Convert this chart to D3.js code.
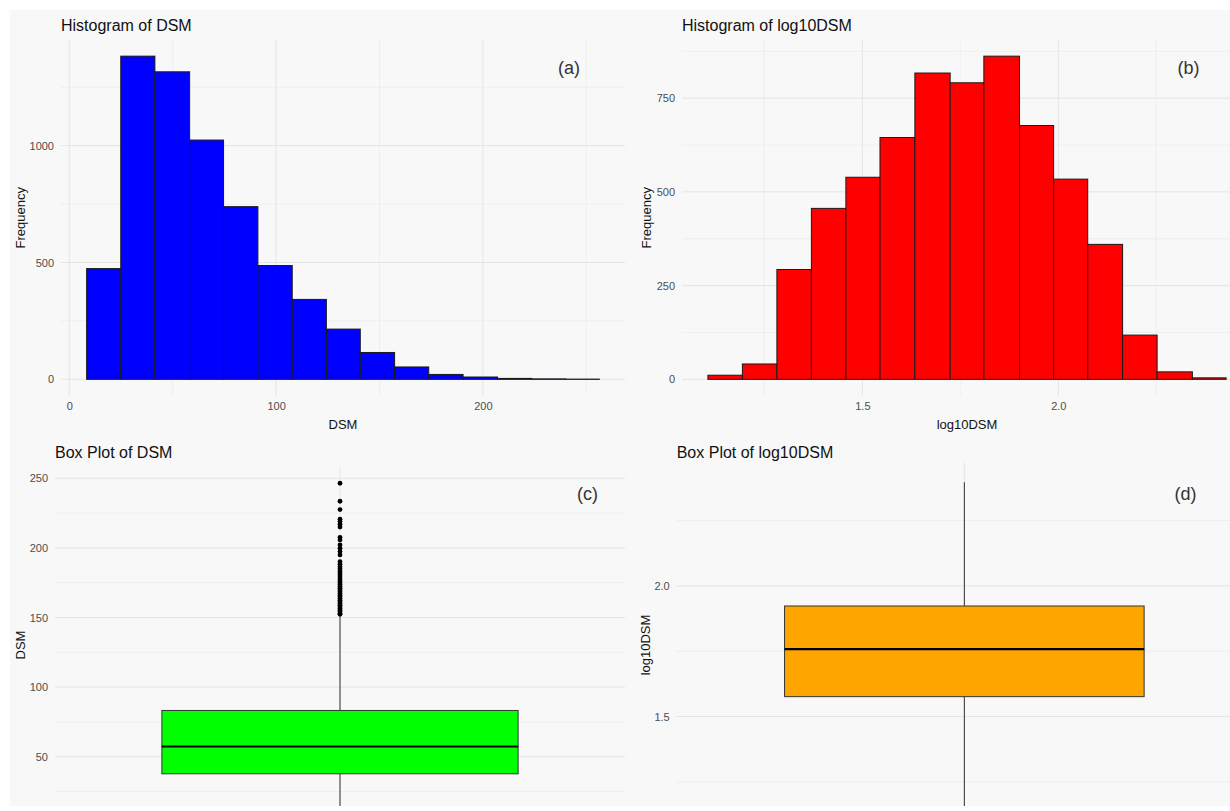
<!DOCTYPE html>
<html>
<head>
<meta charset="utf-8">
<script src="https://cdn.jsdelivr.net/npm/d3@7"></script>
<style>
  body { margin: 0; background: #ffffff; }
  svg text { font-family: "Liberation Sans", Arial, sans-serif; }
</style>
</head>
<body>
<svg id="chart" width="1230" height="811"></svg>
<script>
// ---------------- DATA ----------------
const dsmBinEdges = [8.4, 24.9, 41.4, 58.2, 74.6, 91.2, 107.8, 124.3, 140.7, 157.3, 173.8, 190.4, 207.1, 223.6, 240.0, 256.3];
const dsmCounts   = [474, 1383, 1316, 1024, 739, 487, 342, 215, 115, 53, 21, 10, 4, 2, 1];

const logBinEdges = [1.106, 1.194, 1.282, 1.370, 1.458, 1.545, 1.634, 1.724, 1.810, 1.901, 1.988, 2.075, 2.164, 2.252, 2.342, 2.428];
const logCounts   = [11, 41, 293, 456, 539, 645, 817, 791, 862, 677, 534, 360, 118, 20, 4];

// [lower whisker, Q1, median, Q3, upper whisker]
const dsmBoxStats = [8.3, 37.7, 57.3, 83.2, 151.9];
const dsmOutliers = [246.4, 233.5, 227.5, 220.6, 218.9, 217.0, 215.0, 207.6, 205.7, 202.1, 199.7, 197.3, 194.9,
                     190.1, 188.3, 186.5, 185.0, 183.4, 182.0, 180.5, 179.0, 177.6, 176.2, 175.0, 173.6, 172.3,
                     171.0, 169.8, 168.5, 167.2, 166.0, 164.8, 163.6, 162.4, 161.2, 160.0, 158.8, 157.6, 156.4,
                     155.2, 154.0, 152.8, 152.3];
const logBoxStats = [0.92, 1.576, 1.758, 1.923, 2.397];

// tick values
const dsmXMajor = [0, 100, 200],        dsmXMinor = [50, 150, 250];
const freqAMajor = [0, 500, 1000],      freqAMinor = [250, 750, 1250];
const logXMajor = [1.5, 2.0],           logXMinor = [1.25, 1.75, 2.25];
const freqBMajor = [0, 250, 500, 750],  freqBMinor = [125, 375, 625, 875];
const dsmYMajor = [50, 100, 150, 200, 250], dsmYMinor = [25, 75, 125, 175, 225];
const logYMajor = [1.5, 2.0],           logYMinor = [1.25, 1.75, 2.25];

// ---------------- DRAWING ----------------
const svg = d3.select("#chart");
svg.append("defs").append("clipPath").attr("id", "fig")
  .append("rect").attr("x", 10).attr("y", 10).attr("width", 1220).attr("height", 796);
svg.append("rect").attr("x", 10).attr("y", 10).attr("width", 1220).attr("height", 796).attr("fill", "#f8f8f8");
const root = svg.append("g").attr("clip-path", "url(#fig)");

const MAJ = "#e4e4e4", MIN = "#ececec";
const expand = (ext, f = 0.05) => { const r = ext[1] - ext[0]; return [ext[0] - r * f, ext[1] + r * f]; };

function grid(g, x, y, L, R, T, B, xMaj, xMin, yMaj, yMin) {
  const gg = g.append("g");
  if (yMin) gg.selectAll(null).data(yMin.filter(v => y(v) >= T && y(v) <= B)).join("line")
    .attr("x1", L).attr("x2", R).attr("y1", d => y(d)).attr("y2", d => y(d)).attr("stroke", MIN).attr("stroke-width", 0.8);
  if (xMin) gg.selectAll(null).data(xMin.filter(v => x(v) >= L && x(v) <= R)).join("line")
    .attr("y1", T).attr("y2", B).attr("x1", d => x(d)).attr("x2", d => x(d)).attr("stroke", MIN).attr("stroke-width", 0.8);
  if (yMaj) gg.selectAll(null).data(yMaj).join("line")
    .attr("x1", L).attr("x2", R).attr("y1", d => y(d)).attr("y2", d => y(d)).attr("stroke", MAJ).attr("stroke-width", 1);
  if (xMaj) gg.selectAll(null).data(xMaj).join("line")
    .attr("y1", T).attr("y2", B).attr("x1", d => x(d)).attr("x2", d => x(d)).attr("stroke", MAJ).attr("stroke-width", 1);
}

function styleAxis(a) {
  a.select(".domain").remove();
  a.selectAll("text").attr("fill", "#4d4d4d").style("font-size", "11px")
    .style("font-family", '"Liberation Sans", Arial, sans-serif');
}

function histogram(p) {
  const g = root.append("g");
  const x = d3.scaleLinear().domain(expand([p.edges[0], p.edges[p.edges.length - 1]])).range([p.L, p.R]);
  const y = d3.scaleLinear().domain(expand([0, d3.max(p.counts)])).range([p.B, p.T]);
  grid(g, x, y, p.L, p.R, p.T, p.B, p.xMaj, p.xMin, p.yMaj, p.yMin);
  const bins = p.counts.map((c, i) => ({ x0: p.edges[i], x1: p.edges[i + 1], c }));
  g.selectAll(null).data(bins).join("rect")
    .attr("x", d => x(d.x0)).attr("width", d => x(d.x1) - x(d.x0))
    .attr("y", d => y(d.c)).attr("height", d => y(0) - y(d.c))
    .attr("fill", p.fill).attr("stroke", "#1a1a1a").attr("stroke-width", 1);
  g.append("g").attr("transform", `translate(0,${p.B})`)
    .call(d3.axisBottom(x).tickValues(p.xMaj).tickSize(0).tickPadding(7).tickFormat(p.xFmt)).call(styleAxis);
  g.append("g").attr("transform", `translate(${p.L},0)`)
    .call(d3.axisLeft(y).tickValues(p.yMaj).tickSize(0).tickPadding(7).tickFormat(d3.format("d"))).call(styleAxis);
  g.append("text").attr("x", (p.L + p.R) / 2).attr("y", p.B + 33).attr("text-anchor", "middle")
    .attr("font-size", 13).attr("fill", "#111").text(p.xlab);
  g.append("text").attr("transform", `translate(${p.ylabX},${(p.T + p.B) / 2}) rotate(-90)`).attr("text-anchor", "middle")
    .attr("font-size", 13).attr("fill", "#111").text(p.ylab);
  g.append("text").attr("x", p.L).attr("y", p.titleY).attr("font-size", 16).attr("fill", "#111").text(p.title);
  g.append("text").attr("x", p.tagX).attr("y", p.tagY).attr("font-size", 18).attr("fill", "#333").text(p.tag);
}

function boxplot(p) {
  const g = root.append("g");
  const x = d3.scaleLinear().domain([0.4, 1.6]).range([p.L, p.R]);
  const ext = [p.stats[0], d3.max([p.stats[4], ...(p.outliers || [])])];
  const y = d3.scaleLinear().domain(expand(ext)).range([p.B, p.T]);
  grid(g, x, y, p.L, p.R, p.T, p.B, [1], null, p.yMaj, p.yMin);
  const [lo, q1, med, q3, hi] = p.stats;
  g.append("line").attr("x1", x(1)).attr("x2", x(1)).attr("y1", y(lo)).attr("y2", y(q1)).attr("stroke", "#333").attr("stroke-width", 1);
  g.append("line").attr("x1", x(1)).attr("x2", x(1)).attr("y1", y(q3)).attr("y2", y(hi)).attr("stroke", "#333").attr("stroke-width", 1);
  g.selectAll(null).data(p.outliers || []).join("circle")
    .attr("cx", x(1)).attr("cy", d => y(d)).attr("r", 2.4).attr("fill", "#000");
  g.append("rect").attr("x", x(0.625)).attr("width", x(1.375) - x(0.625))
    .attr("y", y(q3)).attr("height", y(q1) - y(q3))
    .attr("fill", p.fill).attr("stroke", "#333").attr("stroke-width", 1);
  g.append("line").attr("x1", x(0.625)).attr("x2", x(1.375)).attr("y1", y(med)).attr("y2", y(med))
    .attr("stroke", "#000").attr("stroke-width", 2.2);
  g.append("g").attr("transform", `translate(${p.L},0)`)
    .call(d3.axisLeft(y).tickValues(p.yMaj).tickSize(0).tickPadding(7).tickFormat(p.yFmt)).call(styleAxis);
  g.append("text").attr("transform", `translate(${p.ylabX},${p.ylabY}) rotate(-90)`).attr("text-anchor", "middle")
    .attr("font-size", 13).attr("fill", "#111").text(p.ylab);
  g.append("text").attr("x", p.L).attr("y", p.titleY).attr("font-size", 16).attr("fill", "#111").text(p.title);
  g.append("text").attr("x", p.tagX).attr("y", p.tagY).attr("font-size", 18).attr("fill", "#333").text(p.tag);
}

histogram({
  L: 61, R: 625, T: 40, B: 395.5, edges: dsmBinEdges, counts: dsmCounts, fill: "#0000ff",
  xMaj: dsmXMajor, xMin: dsmXMinor, yMaj: freqAMajor, yMin: freqAMinor, xFmt: d3.format("d"),
  title: "Histogram of DSM", titleY: 30.5, xlab: "DSM", ylab: "Frequency", ylabX: 25,
  tag: "(a)", tagX: 558, tagY: 73.5
});
histogram({
  L: 682, R: 1252, T: 40, B: 395.5, edges: logBinEdges, counts: logCounts, fill: "#ff0000",
  xMaj: logXMajor, xMin: logXMinor, yMaj: freqBMajor, yMin: freqBMinor, xFmt: d3.format(".1f"),
  title: "Histogram of log10DSM", titleY: 30.5, xlab: "log10DSM", ylab: "Frequency", ylabX: 651,
  tag: "(b)", tagX: 1177.5, tagY: 73.5
});
boxplot({
  L: 55, R: 625, T: 466.7, B: 831.3, stats: dsmBoxStats, outliers: dsmOutliers, fill: "#00ff00",
  yMaj: dsmYMajor, yMin: dsmYMinor, yFmt: d3.format("d"),
  title: "Box Plot of DSM", titleY: 458, ylab: "DSM", ylabX: 25, ylabY: 645,
  tag: "(c)", tagX: 577, tagY: 499.5
});
boxplot({
  L: 676.7, R: 1252, T: 462.9, B: 887.3, stats: logBoxStats, outliers: [], fill: "#ffa500",
  yMaj: logYMajor, yMin: logYMinor, yFmt: d3.format(".1f"),
  title: "Box Plot of log10DSM", titleY: 458, ylab: "log10DSM", ylabX: 650, ylabY: 645,
  tag: "(d)", tagX: 1174.5, tagY: 499.5
});
</script>
</body>
</html>
